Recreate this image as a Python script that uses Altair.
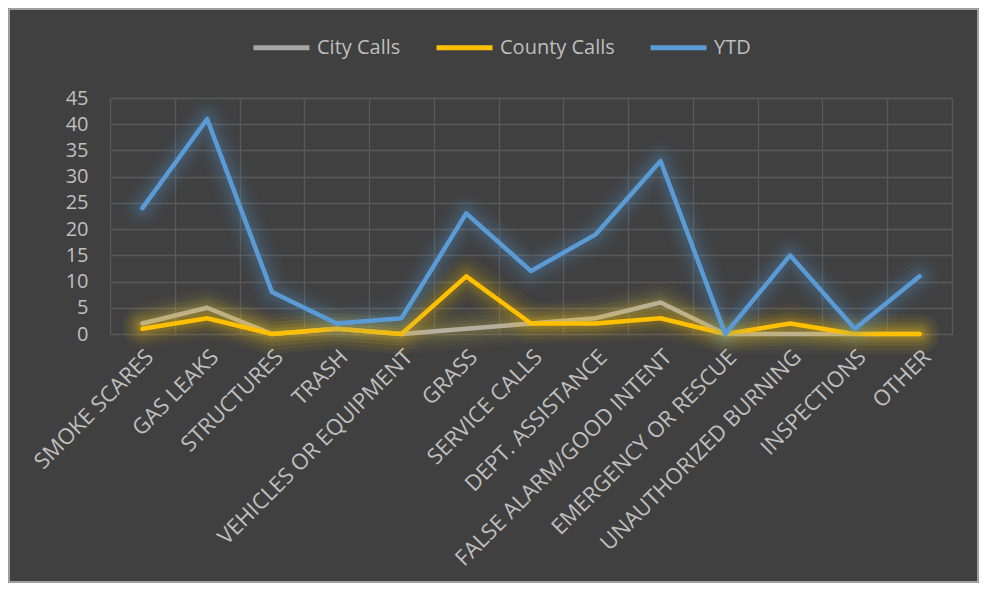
import altair as alt
import pandas as pd

categories = ["SMOKE SCARES", "GAS LEAKS", "STRUCTURES", "TRASH", "VEHICLES OR EQUIPMENT",
              "GRASS", "SERVICE CALLS", "DEPT. ASSISTANCE", "FALSE ALARM/GOOD INTENT",
              "EMERGENCY OR RESCUE", "UNAUTHORIZED BURNING", "INSPECTIONS", "OTHER"]
series = ["City Calls", "County Calls", "YTD"]
city_calls = [2, 5, 0, 1, 0, 1, 2, 3, 6, 0, 0, 0, 0]
county_calls = [1, 3, 0, 1, 0, 11, 2, 2, 3, 0, 2, 0, 0]
ytd = [24, 41, 8, 2, 3, 23, 12, 19, 33, 0, 15, 1, 11]
y_ticks = [0, 5, 10, 15, 20, 25, 30, 35, 40, 45]

colors = ["#A5A5A5", "#FFC000", "#5B9BD5"]
glow_colors = ["#D8C050", "#FFC000", "#5B9BD5"]

rows = []
for s, vals in zip(series, [city_calls, county_calls, ytd]):
    for c, v in zip(categories, vals):
        rows.append({"category": c, "series": s, "value": v})
df = pd.DataFrame(rows)

FONT = "Open Sans"
LABEL = "#BFBFBF"
GRID = "#595959"

x_enc = alt.X("category:N", sort=categories, bandPosition=0.5,
              scale=alt.Scale(type="band", domain=categories, paddingInner=0, paddingOuter=0),
              axis=alt.Axis(title=None, labelAngle=-45, tickBand="extent", grid=True,
                            gridColor=GRID, gridWidth=1.3, ticks=False, domain=False,
                            labelFont=FONT, labelFontSize=22, labelColor=LABEL,
                            labelPadding=12, labelOverlap=False, labelLimit=400))
y_enc = alt.Y("value:Q", scale=alt.Scale(domain=[0, 45], nice=False),
              axis=alt.Axis(title=None, values=y_ticks, grid=True, gridColor=GRID,
                            gridWidth=1.3, ticks=False, domain=False, labelFont=FONT,
                            labelFontSize=20, labelColor=LABEL, labelPadding=22))

base = alt.Chart(df)

layers = []
frame = alt.Chart(pd.DataFrame({"a": [0]})).mark_rect(
    fillOpacity=0, stroke="#BFBFBF", strokeWidth=1.5
).encode(x=alt.value(-101), x2=alt.value(868), y=alt.value(-89), y2=alt.value(484))
layers.append(frame)

for s, gc in zip(series, glow_colors):
    sub = base.transform_filter(alt.datum.series == s)
    for w, op in [(40, 0.035), (32, 0.045), (24, 0.055), (17, 0.07), (11, 0.09)]:
        layers.append(sub.mark_line(strokeWidth=w, opacity=op, strokeJoin="round",
                                    strokeCap="round").encode(
            x=x_enc, y=y_enc, color=alt.value(gc)))
    layers.append(sub.mark_line(strokeWidth=4.5, strokeJoin="round", strokeCap="round").encode(
        x=x_enc, y=y_enc,
        color=alt.Color("series:N", scale=alt.Scale(domain=series, range=colors),
                        legend=alt.Legend(title=None, orient="none", direction="horizontal",
                                          legendX=141, legendY=-81, symbolType="stroke",
                                          symbolSize=3136, symbolStrokeWidth=5,
                                          labelFont=FONT, labelFontSize=20,
                                          labelColor=LABEL, columnPadding=25,
                                          labelOffset=5))))
    if s == "City Calls":
        # warm tint that the neighbouring glow casts over the grey line
        layers.append(sub.mark_line(strokeWidth=4.5, opacity=0.18, strokeJoin="round",
                                    strokeCap="round").encode(
            x=x_enc, y=y_enc, color=alt.value("#FFE08A")))

chart = alt.layer(*layers).properties(
    width=842, height=236,
    background="#404040",
    autosize=alt.AutoSizeParams(type="none"),
    padding={"left": 102, "top": 90, "right": 27, "bottom": 249},
).configure_view(stroke=None)

chart.save("out.html", embed_options={"renderer": "svg", "actions": False})
